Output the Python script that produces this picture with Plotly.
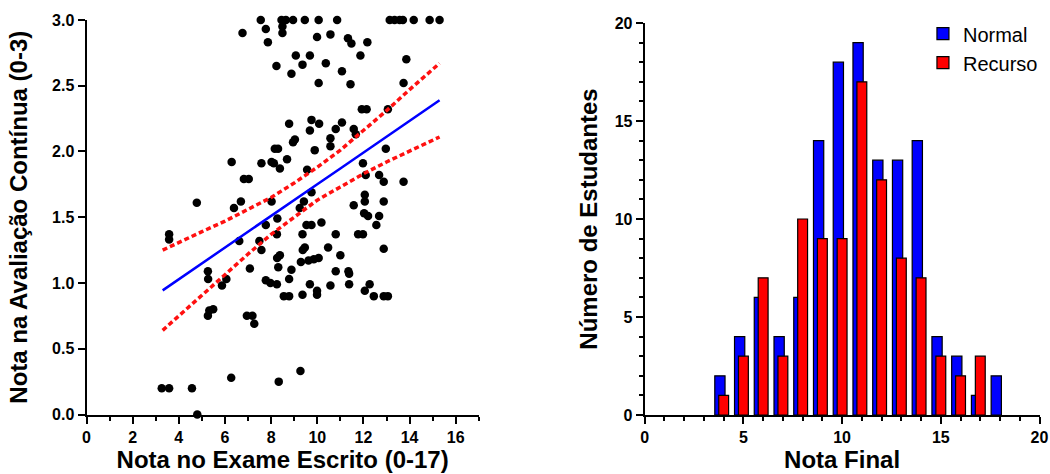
import plotly.graph_objects as go

# ---- Left panel: scatter data (Nota no Exame Escrito vs Nota na Avaliação Contínua)
exam_x = [6.76, 7.55, 7.77, 7.86, 8.23, 8.45, 8.64, 8.49, 8.49, 8.95, 9.46, 10.06, 10.86,
          9.99, 10.57, 11.33, 11.48, 12.17, 9.07, 9.68, 11.87, 9.36, 10.37, 8.88, 11.07,
          10.06, 11.44, 13.14, 13.35, 13.57, 13.71, 14.18, 14.87, 15.30, 13.86, 13.74,
          11.93, 12.14, 13.06, 8.78, 9.75, 10.08, 11.07, 9.68, 10.80, 11.58, 11.67, 9.03,
          8.95, 10.57, 10.57, 12.97, 9.89, 8.16, 8.30, 7.58, 8.02, 8.12, 8.69, 8.38, 9.56,
          11.98, 12.10, 12.68, 12.88, 13.74, 9.75, 12.06, 12.06, 11.58, 12.88, 8.02, 9.24,
          9.42, 6.29, 6.82, 7.03, 4.78, 6.69, 6.39, 3.58, 3.58, 7.77, 6.62, 7.49, 7.58,
          5.26, 7.08, 5.27, 6.06, 5.87, 7.77, 7.97, 8.25, 8.26, 8.38, 8.31, 8.27, 8.25,
          5.32, 5.49, 5.26, 6.95, 7.19, 7.27, 6.27, 8.33, 9.27, 3.26, 3.58, 4.57, 4.80,
          9.53, 9.75, 10.18, 9.36, 10.80, 12.68, 12.56, 11.77, 11.98, 12.03, 12.20, 9.37,
          9.46, 10.47, 11.00, 12.88, 9.29, 9.62, 9.85, 10.06, 8.88, 10.80, 11.35, 11.38,
          8.78, 8.55, 8.78, 9.36, 9.68, 9.99, 9.99, 10.57, 11.38, 12.06, 12.27, 12.45,
          12.88, 13.06]
cont_y = [2.90, 3.00, 2.93, 2.83, 2.65, 3.00, 3.00, 2.95, 2.90, 3.00, 3.00, 3.00, 3.00,
          2.87, 2.89, 2.86, 2.82, 2.83, 2.73, 2.73, 2.73, 2.66, 2.67, 2.59, 2.61,
          2.52, 2.51, 3.00, 3.00, 3.00, 3.00, 3.00, 3.00, 3.00, 2.70, 2.52,
          2.32, 2.32, 2.32, 2.21, 2.24, 2.21, 2.22, 2.16, 2.17, 2.17, 2.13, 2.09,
          2.07, 2.10, 2.04, 2.02, 2.01, 2.02, 2.02, 1.91, 1.92, 1.91, 1.94, 1.87, 1.86,
          1.91, 1.82, 1.82, 1.77, 1.77, 1.69, 1.67, 1.62, 1.59, 1.62, 1.62, 1.57,
          1.62, 1.92, 1.79, 1.79, 1.61, 1.62, 1.57, 1.37, 1.33, 1.44, 1.32, 1.32, 1.25,
          1.09, 1.11, 1.03, 1.03, 0.98, 1.02, 1.00, 0.99, 1.19, 1.21, 1.12, 1.49, 1.37,
          0.79, 0.80, 0.75, 0.75, 0.75, 0.69, 0.28, 0.25, 0.33, 0.20, 0.20, 0.20, 0.00,
          1.44, 1.44, 1.46, 1.37, 1.37, 1.51, 1.44, 1.37, 1.37, 1.53, 1.51, 1.25,
          1.27, 1.27, 1.21, 1.26, 1.16, 1.17, 1.18, 1.19, 1.10, 1.09, 1.09, 1.07,
          1.03, 0.90, 0.90, 0.91, 0.99, 0.94, 0.91, 0.98, 0.99, 0.94, 0.99, 0.90,
          0.90, 0.90]

# regression line and 95% confidence band
fit_x = [3.3, 4, 5, 6, 7, 8, 9, 10, 11, 12, 13, 14, 15.3]
fit_y = [0.944, 1.029, 1.149, 1.269, 1.390, 1.510, 1.631, 1.751, 1.871, 1.992, 2.112, 2.233, 2.389]
band_upper = [1.25, 1.31, 1.39, 1.47, 1.56, 1.65, 1.76, 1.88, 2.01, 2.16, 2.31, 2.47, 2.67]
band_lower = [0.64, 0.75, 0.91, 1.07, 1.22, 1.37, 1.50, 1.63, 1.73, 1.83, 1.92, 2.00, 2.11]

# ---- Right panel: histogram of final grades
normal_x = [4, 5, 6, 7, 8, 9, 10, 11, 12, 13, 14, 15, 16, 17, 18]
normal_n = [2, 4, 6, 4, 6, 14, 18, 19, 13, 13, 14, 4, 3, 1, 2]
recurso_x = [4, 5, 6, 7, 8, 9, 10, 11, 12, 13, 14, 15, 16, 17]
recurso_n = [1, 3, 7, 3, 10, 9, 9, 17, 12, 8, 7, 3, 2, 3]

FONT = "Liberation Sans"

fig = go.Figure()

fig.add_trace(go.Scatter(x=exam_x, y=cont_y, mode="markers",
                         marker=dict(color="black", size=8.5), cliponaxis=False,
                         showlegend=False, xaxis="x", yaxis="y"))
fig.add_trace(go.Scatter(x=fit_x, y=band_upper, mode="lines",
                         line=dict(color="#ff1010", width=3.5, dash="5px,3px"),
                         showlegend=False, xaxis="x", yaxis="y"))
fig.add_trace(go.Scatter(x=fit_x, y=band_lower, mode="lines",
                         line=dict(color="#ff1010", width=3.5, dash="5px,3px"),
                         showlegend=False, xaxis="x", yaxis="y"))
fig.add_trace(go.Scatter(x=fit_x, y=fit_y, mode="lines",
                         line=dict(color="#0000ff", width=2.5),
                         showlegend=False, xaxis="x", yaxis="y"))

fig.add_trace(go.Bar(x=normal_x, y=normal_n, name="Normal", offset=-0.45, width=0.52,
                     legendgroup="normal",
                     marker=dict(color="#0000ff", line=dict(color="black", width=1.2)),
                     xaxis="x2", yaxis="y2"))
fig.add_trace(go.Bar(x=recurso_x, y=recurso_n, name="Recurso", offset=-0.25, width=0.5,
                     legendgroup="recurso",
                     marker=dict(color="#ff0000", line=dict(color="black", width=1.2)),
                     xaxis="x2", yaxis="y2"))

axis_common = dict(showgrid=False, zeroline=False, showline=True, linecolor="black",
                   linewidth=2, ticks="outside", tickcolor="black", tickwidth=2,
                   ticklen=7, automargin=False, ticklabeloverflow="allow",
                   tickfont=dict(family=FONT, size=16, color="black", weight="bold"))
title_font = dict(family=FONT, size=24, color="black", weight="bold")
minor_ticks = dict(dtick=1, ticks="outside", ticklen=4, tickcolor="black", tickwidth=2)

fig.update_layout(
    width=1050, height=474,
    margin=dict(l=0, r=0, t=0, b=0, autoexpand=False),
    paper_bgcolor="white", plot_bgcolor="white",
    barmode="overlay",
    xaxis=dict(domain=[0.0824, 0.456], range=[0, 17], tickvals=[0, 2, 4, 6, 8, 10, 12, 14, 16],
               minor=minor_ticks,
               title=dict(text="Nota no Exame Escrito (0-17)", font=title_font, standoff=4),
               anchor="y", **axis_common),
    yaxis=dict(domain=[0.1255, 0.958], range=[0, 3], tickvals=[0, 0.5, 1, 1.5, 2, 2.5, 3],
               tickformat=".1f",
               title=dict(text="Nota na Avaliação Contínua (0-3)", font=title_font, standoff=18),
               anchor="x", **axis_common),
    xaxis2=dict(domain=[0.614, 0.990], range=[0, 20], tickvals=[0, 5, 10, 15, 20],
                minor=minor_ticks,
                title=dict(text="Nota Final", font=title_font, standoff=4),
                anchor="y2", **axis_common),
    yaxis2=dict(domain=[0.1245, 0.9515], range=[0, 20], tickvals=[0, 5, 10, 15, 20],
                minor=minor_ticks,
                title=dict(text="Número de Estudantes", font=title_font, standoff=10),
                anchor="x2", **axis_common),
    legend=dict(x=0.879, y=0.97, xanchor="left", yanchor="top",
                font=dict(family=FONT, size=20, color="black"),
                bgcolor="rgba(0,0,0,0)", tracegroupgap=0),
)

fig.write_html("out.html", config={"displayModeBar": False},
               post_script="document.body.style.margin='0';document.body.style.overflow='hidden';")
